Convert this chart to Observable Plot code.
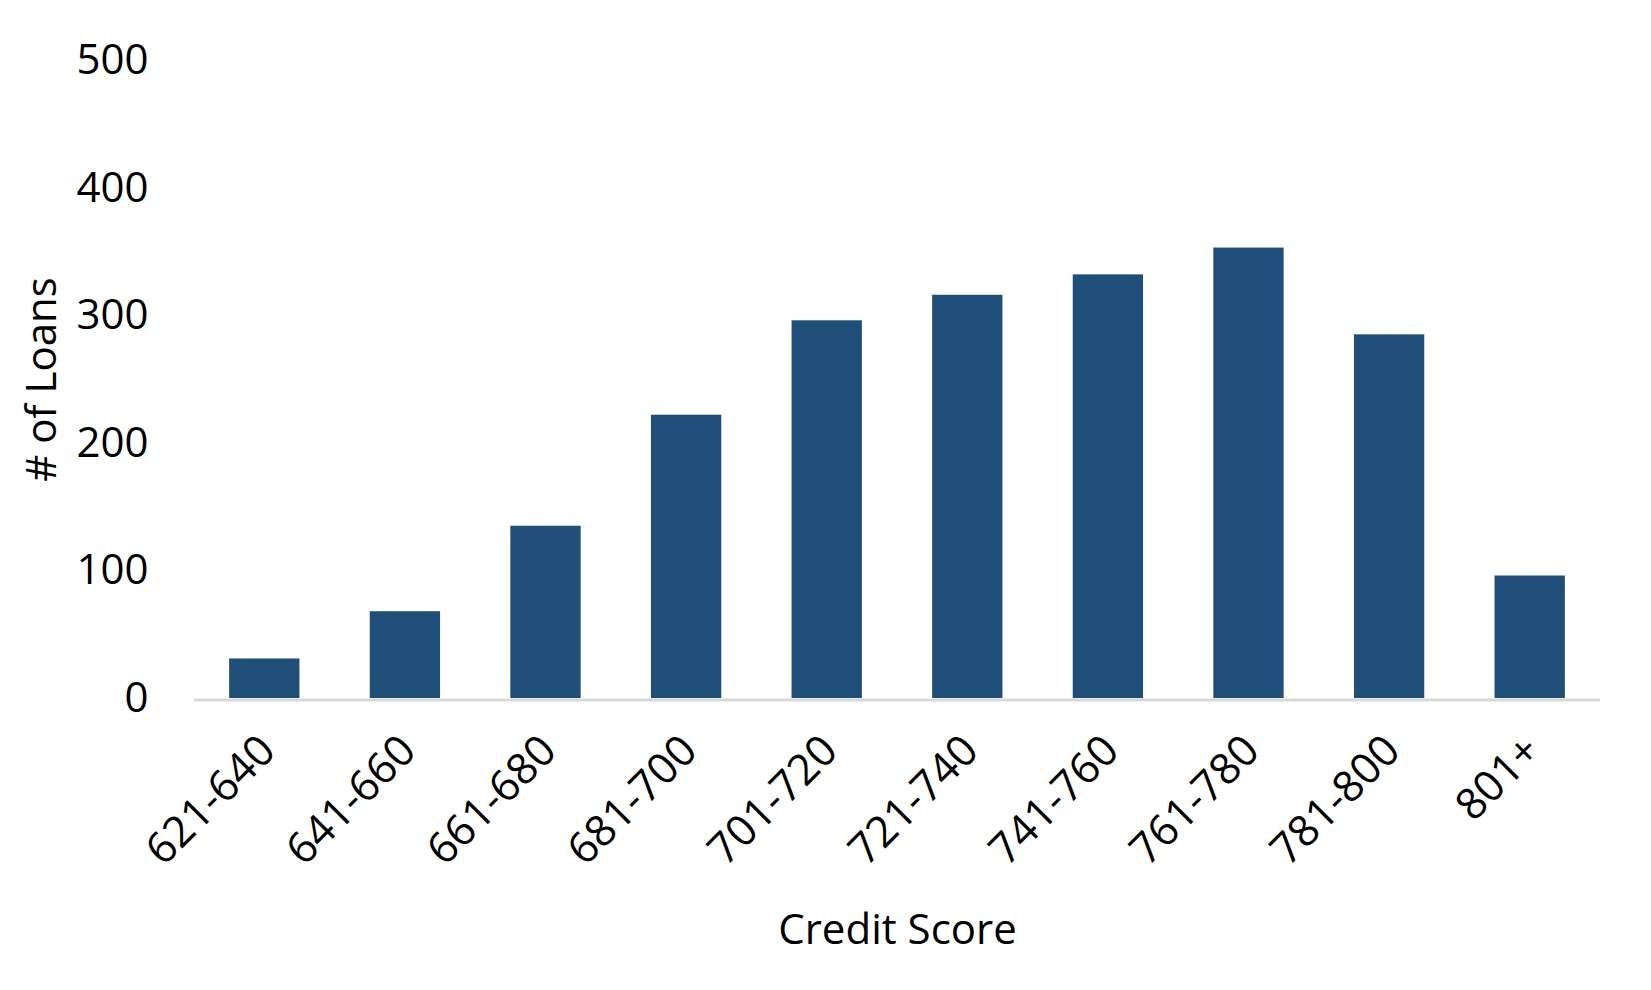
<!DOCTYPE html>
<html><head><meta charset="utf-8">
<script src="https://cdn.jsdelivr.net/npm/d3@7"></script>
<script src="https://cdn.jsdelivr.net/npm/@observablehq/plot@0.6"></script>
<style>html,body{margin:0;padding:0;background:#fff;}</style>
</head><body><div id="chart"></div>
<script>
const categories = ["621-640", "641-660", "661-680", "681-700", "701-720", "721-740", "741-760", "761-780", "781-800", "801+"];
const loans = [31, 68, 135, 222, 296, 316, 332, 353, 285, 96];
const yTicks = [0, 100, 200, 300, 400, 500];
const xTitle = "Credit Score";
const yTitle = "# of Loans";

const data = categories.map((c, i) => ({category: c, loans: loans[i]}));

const chart = Plot.plot({
  width: 1651, height: 990,
  marginTop: 60, marginBottom: 292, marginLeft: 194, marginRight: 51,
  style: {fontFamily: "'Open Sans', sans-serif", fontSize: "42px", color: "#000", background: "#fff"},
  x: {domain: categories, paddingInner: 0.5, paddingOuter: 0.25, round: false, label: null},
  y: {domain: [0, 500], label: null},
  marks: [
    Plot.ruleY([0], {stroke: "#d9d9d9", strokeWidth: 3, dy: 1.5}),
    Plot.barY(data, {x: "category", y: "loans", fill: "#1f4e79"}),
    Plot.axisY({ticks: yTicks, tickSize: 0, tickPadding: 46, fontSize: 42, label: null}),
    Plot.axisX({tickSize: 0, tickPadding: 45, dx: 3, tickRotate: -45, fontSize: 43, label: null}),
    Plot.text([xTitle], {text: d => d, frameAnchor: "bottom", lineAnchor: "middle", textAnchor: "middle", dy: 232, fontSize: 42}),
    Plot.text([yTitle], {text: d => d, frameAnchor: "left", lineAnchor: "middle", textAnchor: "middle", dx: -152, rotate: -90, fontSize: 42})
  ]
});
document.getElementById("chart").appendChild(chart);
</script>
</body></html>
